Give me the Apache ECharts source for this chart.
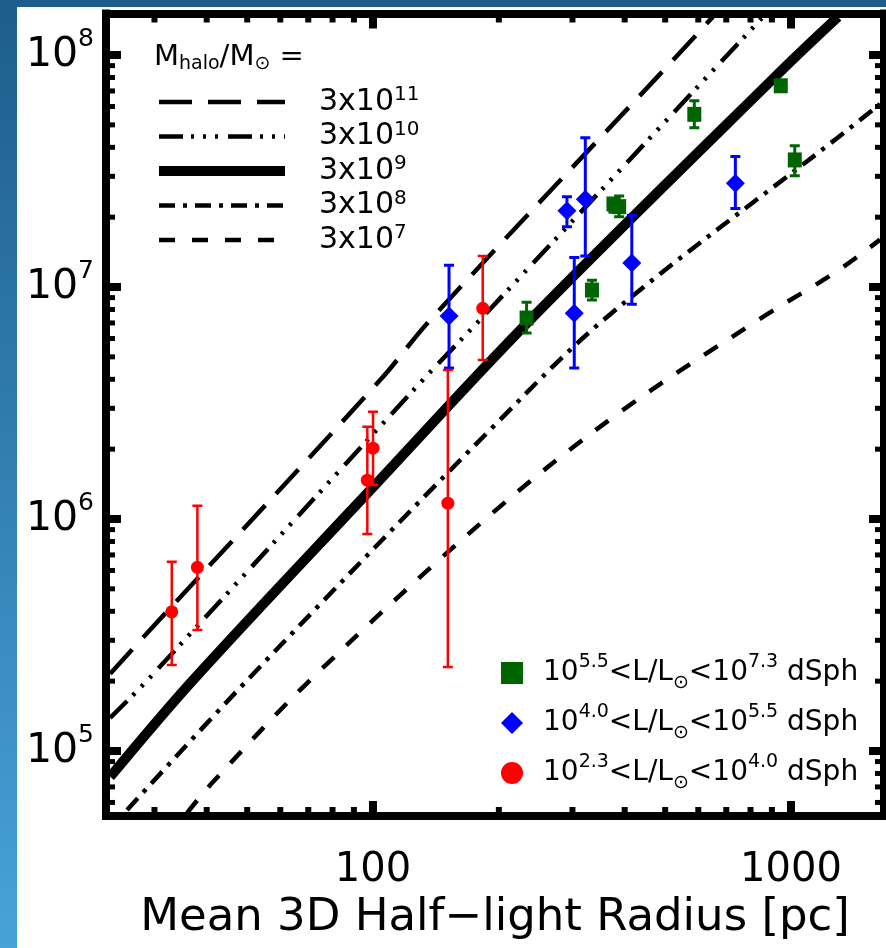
<!DOCTYPE html>
<html><head><meta charset="utf-8">
<script src="https://cdn.jsdelivr.net/npm/echarts@6/dist/echarts.min.js"></script>
<style>html,body{margin:0;padding:0;background:#fff}#c{width:886px;height:948px}</style>
</head><body><div id="c"></div>
<script>
const FONT = 'DejaVu Sans';

// ---- axis ranges & ticks ----
const xRange = [22.97, 1669];
const yRange = [5.245e4, 1.51e8];
const xMajorTicks = [100, 1000];
const xTickLabels = ['100', '1000'];
const xMinorTicks = [30, 40, 50, 60, 70, 80, 90, 200, 300, 400, 500, 600, 700, 800, 900];
const yMajorTicks = [1e5, 1e6, 1e7, 1e8];
const yTickExponents = ['5', '6', '7', '8'];
const yMinorTicks = [6e4, 7e4, 8e4, 9e4, 2e5, 3e5, 4e5, 5e5, 6e5, 7e5, 8e5, 9e5,
  2e6, 3e6, 4e6, 5e6, 6e6, 7e6, 8e6, 9e6, 2e7, 3e7, 4e7, 5e7, 6e7, 7e7, 8e7, 9e7];

// ---- halo model curves [radius pc, mass] ----
const halo3e11 = [[23.5, 2.15e5], [29.3, 3.33e5], [104, 3.97e6], [137, 7.21e6], [522, 9.5e7], [650, 1.46e8]];
const halo3e10 = [[23.5, 1.39e5], [29.3, 2.08e5], [129.6, 3.86e6], [183, 7.43e6], [676, 9.24e7], [857, 1.46e8]];
const halo3e9  = [[23.5, 7.73e4], [37.1, 2.02e5], [98.4, 1.33e6], [237.5, 7.21e6], [941, 8.45e7], [1295, 1.46e8]];
const halo3e8  = [[25.8, 5.57e4], [50.8, 2.08e5], [201, 2.67e6], [363, 7.43e6], [1288, 4.38e7], [1633, 6.15e7]];
const halo3e7  = [[35.9, 5.41e4], [41.4, 7.35e4], [71.9, 2.08e5], [190.6, 1.04e6], [390, 2.89e6], [857, 7.43e6], [1288, 1.17e7], [1633, 1.6e7]];
const haloNames = ['3x10^11', '3x10^10', '3x10^9', '3x10^8', '3x10^7'];

// ---- dSph data ----
const redR  = [33.0, 38.0, 96.9, 100, 151, 183];
const redM  = [3.98e5, 6.19e5, 1.47e6, 2.02e6, 1.17e6, 8.09e6];
const redLo = [2.35e5, 3.32e5, 8.62e5, 1.40e6, 2.30e5, 4.85e6];
const redHi = [6.55e5, 1.14e6, 2.50e6, 2.90e6, 4.39e6, 1.36e7];

const blueR  = [152, 291, 322, 303, 416, 736];
const blueM  = [7.50e6, 2.13e7, 2.39e7, 7.70e6, 1.27e7, 2.80e7];
const blueLo = [4.48e6, 1.82e7, 1.36e7, 4.48e6, 8.42e6, 2.18e7];
const blueHi = [1.24e7, 2.45e7, 4.40e7, 1.34e7, 2.04e7, 3.65e7];

const greenR  = [233, 334, 376, 388, 587, 945, 1021];
const greenM  = [7.35e6, 9.70e6, 2.28e7, 2.22e7, 5.55e7, 7.37e7, 3.53e7];
const greenLo = [6.33e6, 8.79e6, 2.10e7, 2.01e7, 4.86e7, 7.15e7, 3.02e7];
const greenHi = [8.59e6, 1.07e7, 2.40e7, 2.47e7, 6.35e7, 7.55e7, 4.06e7];

const groupNames = ['10^5.5<L/Lsun<10^7.3 dSph', '10^4.0<L/Lsun<10^5.5 dSph', '10^2.3<L/Lsun<10^4.0 dSph'];
const groupRich = [
  '{n|10}{sup|5.5}{n|<L/L}{sub|⊙}{n|<10}{sup|7.3}{n| dSph}',
  '{n|10}{sup|4.0}{n|<L/L}{sub|⊙}{n|<10}{sup|5.5}{n| dSph}',
  '{n|10}{sup|2.3}{n|<L/L}{sub|⊙}{n|<10}{sup|4.0}{n| dSph}'
];

const zip = (a, b) => a.map((v, i) => [v, b[i]]);
const zip3 = (a, b, c) => a.map((v, i) => [v, b[i], c[i]]);

function errRender(color, w, cap) {
  return function (params, api) {
    const x = api.value(0), lo = api.value(1), hi = api.value(2);
    const p1 = api.coord([x, lo]), p2 = api.coord([x, hi]);
    const st = { stroke: color, lineWidth: w };
    return { type: 'group', children: [
      { type: 'line', shape: { x1: p1[0], y1: p1[1], x2: p2[0], y2: p2[1] }, style: st },
      { type: 'line', shape: { x1: p1[0] - cap, y1: p1[1], x2: p1[0] + cap, y2: p1[1] }, style: st },
      { type: 'line', shape: { x1: p2[0] - cap, y1: p2[1], x2: p2[0] + cap, y2: p2[1] }, style: st }
    ] };
  };
}

function xTickRender(params, api) {
  const cs = params.coordSys;
  const px = api.coord([api.value(0), yRange[0]])[0];
  const major = api.value(2) === 1;
  const L = major ? 15 : 9, W = major ? 8 : 6;
  return { type: 'group', children: [
    { type: 'rect', shape: { x: px - W / 2, y: cs.y + cs.height - L, width: W, height: L }, style: { fill: '#000' } },
    { type: 'rect', shape: { x: px - W / 2, y: cs.y, width: W, height: L }, style: { fill: '#000' } }
  ] };
}
function yTickRender(params, api) {
  const cs = params.coordSys;
  const py = api.coord([xRange[0], api.value(1)])[1];
  const major = api.value(2) === 1;
  const L = major ? 15 : 9, H = major ? 8 : 5;
  return { type: 'group', children: [
    { type: 'rect', shape: { x: cs.x, y: py - H / 2, width: L, height: H }, style: { fill: '#000' } },
    { type: 'rect', shape: { x: cs.x + cs.width - L, y: py - H / 2, width: L, height: H }, style: { fill: '#000' } }
  ] };
}

const xTickData = xMajorTicks.map(v => [v, yRange[0], 1]).concat(xMinorTicks.map(v => [v, yRange[0], 0]));
const yTickData = yMajorTicks.map(v => [xRange[0], v, 1]).concat(yMinorTicks.map(v => [xRange[0], v, 0]));

const frameLine = { show: true, lineStyle: { color: '#000', width: 8, cap: 'square' } };

const chart = echarts.init(document.getElementById('c'), null, { renderer: 'canvas' });

const lineDefs = [
  { data: halo3e11, width: 4.5, type: [33, 16] },
  { data: halo3e10, width: 4.5, type: [24, 8, 3, 9, 3, 9, 3, 10] },
  { data: halo3e9,  width: 10,  type: 'solid' },
  { data: halo3e8,  width: 4.5, type: [16, 8, 4, 8] },
  { data: halo3e7,  width: 4.5, type: [16, 17] }
];

const series = [];
lineDefs.forEach((d, i) => {
  series.push({
    type: 'line', name: haloNames[i], data: d.data, symbol: 'none', showSymbol: false, smooth: 0.35,
    lineStyle: { color: '#000', width: d.width, type: d.type, cap: 'butt' },
    itemStyle: { color: '#000' }, clip: true, z: 2, silent: true, animation: false
  });
});
series.push(
  { type: 'custom', name: 'errG', renderItem: errRender('#006400', 3, 5), data: zip3(greenR, greenLo, greenHi), encode: { x: 0, y: [1, 2] }, z: 3, silent: true, clip: true },
  { type: 'custom', name: 'errB', renderItem: errRender('#0000ff', 3, 5), data: zip3(blueR, blueLo, blueHi), encode: { x: 0, y: [1, 2] }, z: 3, silent: true, clip: true },
  { type: 'custom', name: 'errR', renderItem: errRender('#ff0000', 2.5, 5), data: zip3(redR, redLo, redHi), encode: { x: 0, y: [1, 2] }, z: 3, silent: true, clip: true },
  { type: 'scatter', name: groupNames[0], data: zip(greenR, greenM), symbol: 'rect', symbolSize: [14, 15], itemStyle: { color: '#006400', opacity: 1 }, z: 4, silent: true },
  { type: 'scatter', name: groupNames[1], data: zip(blueR, blueM), symbol: 'diamond', symbolSize: 19, itemStyle: { color: '#0000ff', opacity: 1 }, z: 4, silent: true },
  { type: 'scatter', name: groupNames[2], data: zip(redR, redM), symbol: 'circle', symbolSize: 13, itemStyle: { color: '#ff0000', opacity: 1 }, z: 4, silent: true },
  { type: 'custom', name: 'xticks', renderItem: xTickRender, data: xTickData, z: 3, silent: true, clip: false },
  { type: 'custom', name: 'yticks', renderItem: yTickRender, data: yTickData, z: 3, silent: true, clip: false }
);

const option = {
  animation: false,
  backgroundColor: new echarts.graphic.LinearGradient(0, 0, 0, 1, [
    { offset: 0, color: '#1d5d8b' }, { offset: 1, color: '#48a2da' }
  ]),
  graphic: [
    { type: 'rect', shape: { x: 17, y: 7, width: 869, height: 941 }, style: { fill: '#ffffff' }, z: -10, silent: true },
    { type: 'text', x: 154, y: 57, silent: true, z: 20,
      style: { text: '{n|M}{sub|halo}{n|/M}{sub|⊙}{n| =}', verticalAlign: 'middle', align: 'left',
        rich: {
          n: { fontFamily: FONT, fontSize: 29, fill: '#000', lineHeight: 34 },
          sub: { fontFamily: FONT, fontSize: 19, fill: '#000', lineHeight: 22, verticalAlign: 'bottom' }
        } } }
  ],
  grid: { left: 106, top: 13.5, width: 778, height: 802.5, outerBoundsMode: 'none', containLabel: false },
  xAxis: [
    { type: 'log', logBase: 10, min: xRange[0], max: xRange[1], position: 'bottom', z: 10,
      axisLine: frameLine, axisTick: { show: false }, splitLine: { show: false }, minorTick: { show: false },
      axisLabel: { show: true, showMinLabel: false, showMaxLabel: false, margin: 35, color: '#000', fontFamily: FONT, fontSize: 40,
        formatter: v => { const i = xMajorTicks.findIndex(t => Math.abs(Math.log10(t) - Math.log10(v)) < 1e-6); return i >= 0 ? xTickLabels[i] : ''; } },
      name: 'Mean 3D Half−light Radius [pc]', nameLocation: 'middle', nameGap: 80, nameMoveOverlap: false,
      nameTextStyle: { color: '#000', fontFamily: FONT, fontSize: 45 } },
    { type: 'log', logBase: 10, min: xRange[0], max: xRange[1], position: 'top', z: 10,
      axisLine: frameLine, axisTick: { show: false }, splitLine: { show: false }, axisLabel: { show: false } }
  ],
  yAxis: [
    { type: 'log', logBase: 10, min: yRange[0], max: yRange[1], position: 'left', z: 10,
      axisLine: frameLine, axisTick: { show: false }, splitLine: { show: false }, minorTick: { show: false },
      axisLabel: { show: true, showMinLabel: false, showMaxLabel: false, margin: 12,
        formatter: v => { const i = yMajorTicks.findIndex(t => Math.abs(Math.log10(t) - Math.log10(v)) < 1e-6); return i >= 0 ? '{b|10}{s|' + yTickExponents[i] + '}' : ''; },
        rich: {
          b: { fontFamily: FONT, fontSize: 41, color: '#000', lineHeight: 56 },
          s: { fontFamily: FONT, fontSize: 25, color: '#000', lineHeight: 25, verticalAlign: 'top' }
        } } },
    { type: 'log', logBase: 10, min: yRange[0], max: yRange[1], position: 'right', z: 10,
      axisLine: frameLine, axisTick: { show: false }, splitLine: { show: false }, axisLabel: { show: false } }
  ],
  legend: [
    { data: haloNames.map((n, i) => ({ name: n,
        itemStyle: { opacity: 0, color: 'rgba(0,0,0,0)', borderWidth: 0 },
        lineStyle: { width: lineDefs[i].width, type: lineDefs[i].type, color: '#000', opacity: 1 } })),
      orient: 'vertical', left: 154, top: 85, padding: 0, itemWidth: 126, itemHeight: 34, itemGap: 2.5,
      selectedMode: false,
      formatter: name => { const m = name.split('^'); return '{n|' + m[0] + '}{sup|' + m[1] + '}'; },
      textStyle: { padding: [0, 0, 0, 29], rich: {
        n: { fontFamily: FONT, fontSize: 30, color: '#000', lineHeight: 34 },
        sup: { fontFamily: FONT, fontSize: 20, color: '#000', lineHeight: 20, verticalAlign: 'top' } } } },
    { data: groupNames.map((n, i) => ({ name: n, icon: ['rect', 'diamond', 'circle'][i] })),
      orient: 'vertical', left: 501, top: 653, padding: 0, itemWidth: 22, itemHeight: 22, itemGap: 10,
      selectedMode: false,
      formatter: name => groupRich[groupNames.indexOf(name)],
      textStyle: { padding: [0, 0, 0, 15], rich: {
        n: { fontFamily: FONT, fontSize: 28, color: '#000', lineHeight: 40 },
        sup: { fontFamily: FONT, fontSize: 19, color: '#000', lineHeight: 19, verticalAlign: 'top' },
        sub: { fontFamily: FONT, fontSize: 19, color: '#000', lineHeight: 26, verticalAlign: 'bottom' } } } }
  ],
  series: series
};
chart.setOption(option);
</script></body></html>
